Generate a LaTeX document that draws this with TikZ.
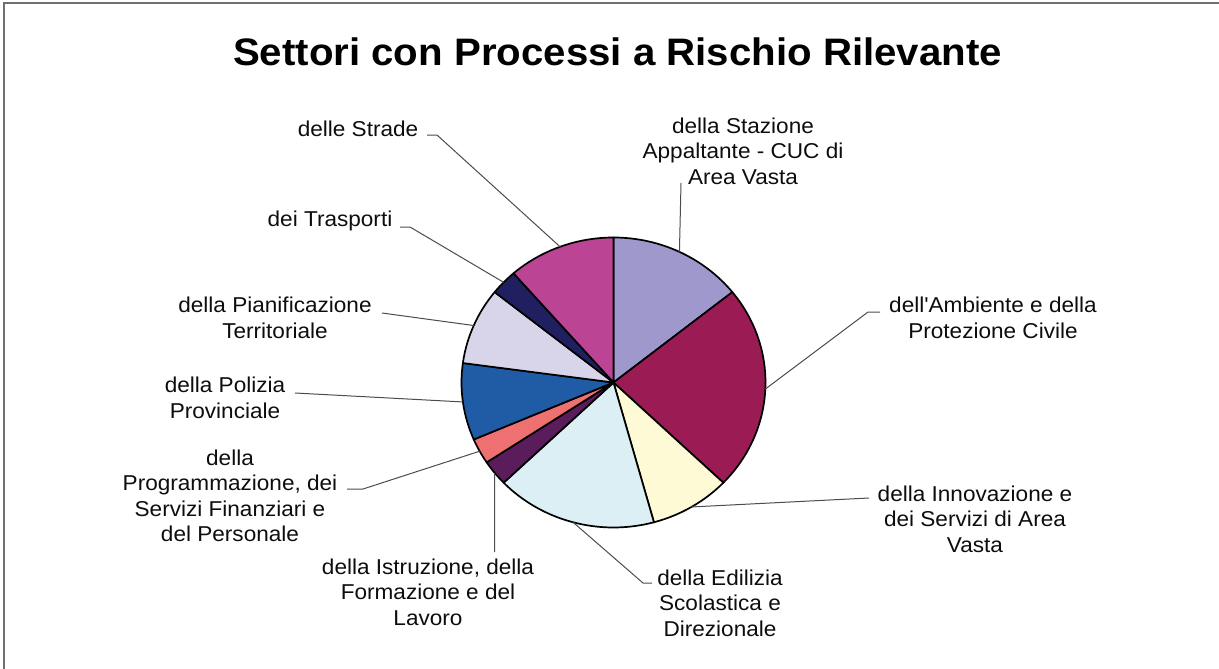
\documentclass[tikz,border=0pt]{standalone}
\usepackage{fontspec}
\setmainfont{Liberation Sans}[FakeStretch=1.05, Ligatures=TeXOff]
\usetikzlibrary{calc}
\definecolor{cStaz}{RGB}{158,152,204}
\definecolor{cAmb}{RGB}{155,27,85}
\definecolor{cInn}{RGB}{255,250,214}
\definecolor{cEdi}{RGB}{220,239,245}
\definecolor{cIstr}{RGB}{90,28,90}
\definecolor{cProg}{RGB}{238,112,112}
\definecolor{cPol}{RGB}{32,92,166}
\definecolor{cPian}{RGB}{216,212,234}
\definecolor{cTrasp}{RGB}{32,32,96}
\definecolor{cStr}{RGB}{188,68,148}
\definecolor{frame}{RGB}{112,112,112}
\begin{document}
\begin{tikzpicture}[x=1pt,y=1pt,
  lbl/.style={font=\fontsize{21.5}{25.5}\selectfont, align=center, inner sep=0pt, text=black!95},
  lead/.style={draw=black!70, line width=1pt},
  slice/.style={draw=black, line width=1.7pt, line join=round}]
\useasboundingbox (0,0) rectangle (1219,-669);
\draw[frame, line width=1.3pt] (4,-669) -- (4,-3) -- (1219,-3);
\coordinate (C) at (613.5,-382.5);
% slices
\foreach \a/\b/\c in {90/38.57/cStaz, 38.57/-43.71/cAmb, -43.71/-74.57/cInn,
  -74.57/-136.29/cEdi, -136.29/-146.57/cIstr, -146.57/-156.86/cProg,
  -156.86/-187.71/cPol, -187.71/-218.57/cPian, -218.57/-228.86/cTrasp,
  -228.86/-270/cStr}{
  \filldraw[slice, fill=\c] (C) -- ++(\a:152 and 145)
    arc[start angle=\a, end angle=\b, x radius=152, y radius=145] -- cycle;
}
% leader start points (slice mid-angles on the edge)
\coordinate (eStaz)  at ($(C)+(64.29:152 and 145)$);
\coordinate (eAmb)   at ($(C)+(-2.57:152 and 145)$);
\coordinate (eInn)   at ($(C)+(-59.14:152 and 145)$);
\coordinate (eEdi)   at ($(C)+(-105.43:152 and 145)$);
\coordinate (eIstr)  at ($(C)+(-141.43:152 and 145)$);
\coordinate (eProg)  at ($(C)+(-151.71:152 and 145)$);
\coordinate (ePol)   at ($(C)+(-172.29:152 and 145)$);
\coordinate (ePian)  at ($(C)+(-203.14:152 and 145)$);
\coordinate (eTrasp) at ($(C)+(-223.71:152 and 145)$);
\coordinate (eStr)   at ($(C)+(-249.43:152 and 145)$);
% title
\node[inner sep=0pt, text=black] (title) at (617.5,-52)
  {\fontsize{38.3}{42}\selectfont\bfseries Settori con Processi a Rischio Rilevante};
% labels
\node[lbl] (tStaz)  at (743,-151) {della Stazione\\Appaltante - CUC di\\Area Vasta};
\node[lbl] (tAmb)   at (993,-318) {dell'Ambiente e della\\Protezione Civile};
\node[lbl] (tInn)   at (975,-519) {della Innovazione e\\dei Servizi di Area\\Vasta};
\node[lbl] (tEdi)   at (720,-603) {della Edilizia\\Scolastica e\\Direzionale};
\node[lbl] (tIstr)  at (428,-592) {della Istruzione, della\\Formazione e del\\Lavoro};
\node[lbl] (tProg)  at (230,-496) {della\\Programmazione, dei\\Servizi Finanziari e\\del Personale};
\node[lbl] (tPol)   at (225,-398) {della Polizia\\Provinciale};
\node[lbl] (tPian)  at (275,-318) {della Pianificazione\\Territoriale};
\node[lbl] (tTrasp) at (330,-221) {dei Trasporti};
\node[lbl] (tStr)   at (358,-129) {delle Strade};
% leader end points
\coordinate (kStaz)  at (681,-183);
\coordinate (jAmb)   at (868,-312);
\coordinate (kAmb)   at (880,-312);
\coordinate (kInn)   at (869,-498);
\coordinate (jEdi)   at (643,-583);
\coordinate (kEdi)   at (652,-583);
\coordinate (kIstr)  at (494.6,-552);
\coordinate (jProg)  at (363,-489);
\coordinate (kProg)  at (347,-489);
\coordinate (kPol)   at (295,-393);
\coordinate (kPian)  at (382,-313);
\coordinate (jTrasp) at (410,-227);
\coordinate (kTrasp) at (400,-227);
\coordinate (jStr)   at (437,-135);
\coordinate (kStr)   at (427,-135);
% leaders
\draw[lead] (eStaz) -- (kStaz);
\draw[lead] (eAmb) -- (jAmb) -- (kAmb);
\draw[lead] (eInn) -- (kInn);
\draw[lead] (eEdi) -- (jEdi) -- (kEdi);
\draw[lead] (eIstr) -- (kIstr);
\draw[lead] (eProg) -- (jProg) -- (kProg);
\draw[lead] (ePol) -- (kPol);
\draw[lead] (ePian) -- (kPian);
\draw[lead] (eTrasp) -- (jTrasp) -- (kTrasp);
\draw[lead] (eStr) -- (jStr) -- (kStr);
\end{tikzpicture}
\end{document}
